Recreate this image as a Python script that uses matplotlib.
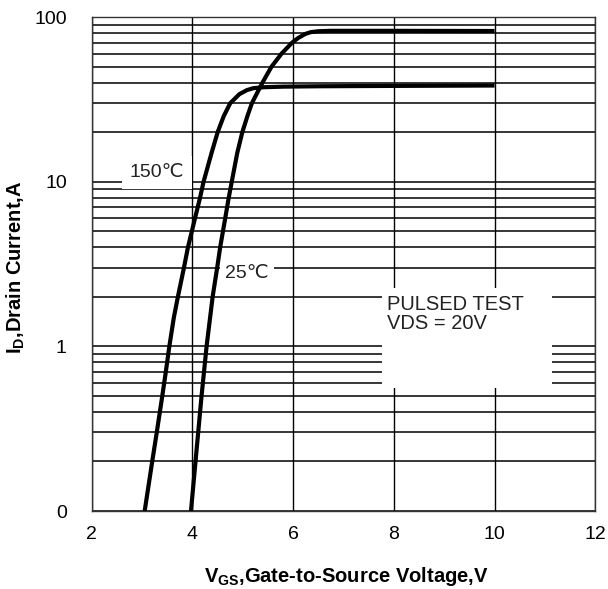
"""Transfer characteristics: drain current vs gate-to-source voltage."""

import matplotlib

matplotlib.use("Agg")
import matplotlib.pyplot as plt
from matplotlib.patches import Rectangle
from matplotlib.ticker import LogLocator, NullFormatter

plt.rcParams["font.family"] = ["Liberation Sans", "DejaVu Sans"]
plt.rcParams["mathtext.fontset"] = "custom"
plt.rcParams["mathtext.rm"] = "Liberation Sans"
plt.rcParams["mathtext.bf"] = "Liberation Sans:bold"

# values
vgs_150 = [3.05, 3.20, 3.29, 3.40, 3.47, 3.54, 3.63, 3.71, 3.83, 3.91, 4.05, 4.15,
           4.22, 4.38, 4.50, 4.62, 4.75, 4.93, 5.08, 5.21, 5.42, 5.80, 6.50, 8.0, 10.0]
id_150 = [0.1, 0.2, 0.3, 0.5, 0.7, 1.0, 1.5, 2.0, 3.0, 4.0, 6.0, 8.0,
          10.0, 15.0, 20.0, 25.0, 30.0, 34.0, 36.0, 37.0, 37.5, 37.8, 38.0, 38.2, 38.4]

vgs_25 = [3.97, 4.06, 4.18, 4.28, 4.40, 4.49, 4.55, 4.65, 4.72, 4.78, 4.89, 4.99,
          5.09, 5.18, 5.39, 5.57, 5.77, 5.98, 6.11, 6.24, 6.35, 6.49, 6.73, 8.0, 10.0]
id_25 = [0.1, 0.2, 0.5, 1.0, 2.0, 3.0, 4.0, 6.0, 8.0, 10.0, 15.0, 20.0,
         25.0, 30.0, 40.0, 50.0, 60.0, 70.0, 75.0, 79.0, 81.0, 82.0, 82.5, 82.5, 82.3]

x_ticks = [2, 4, 6, 8, 10, 12]
y_ticks = [0.1, 1, 10, 100]
y_tick_labels = ["0", "1", "10", "100"]

fig = plt.figure(figsize=(6.08, 5.89), dpi=100)
ax = fig.add_axes([0.151, 0.1324, 0.828, 0.8386])

ax.set_yscale("log")
ax.set_xlim(2, 12)
ax.set_ylim(0.1, 100)

ax.set_xticks(x_ticks)
ax.set_xticklabels([str(t) for t in x_ticks], fontsize=14)
ax.set_yticks(y_ticks)
ax.set_yticklabels(y_tick_labels, fontsize=14)
ax.yaxis.set_minor_locator(LogLocator(base=10, subs=range(2, 10)))
ax.yaxis.set_minor_formatter(NullFormatter())
ax.tick_params(axis="both", which="both", length=0)
ax.tick_params(axis="x", pad=11)
ax.tick_params(axis="y", pad=18)

ax.grid(True, which="both", axis="y", color="black", linewidth=1.1, zorder=1)
ax.grid(True, which="major", axis="x", color="black", linewidth=1.0, zorder=1)
ax.set_axisbelow(True)
for spine in ax.spines.values():
    spine.set_color("#333333")
    spine.set_linewidth(1.0)

ax.plot(vgs_150, id_150, color="black", linewidth=3.0, zorder=5,
        solid_capstyle="butt", solid_joinstyle="round")
ax.plot(vgs_25, id_25, color="black", linewidth=3.0, zorder=5,
        solid_capstyle="butt", solid_joinstyle="round")

ax.text(3.29, 11.4, "150℃", fontsize=14, ha="center", va="center", color="#222222",
        bbox=dict(boxstyle="square,pad=0.4", facecolor="white", edgecolor="none"), zorder=3)
ax.text(5.08, 2.77, "25℃", fontsize=14, ha="center", va="center", color="#222222",
        bbox=dict(boxstyle="square,pad=0.25", facecolor="white", edgecolor="none"), zorder=3)

ax.add_patch(Rectangle((0.5765, 0.249), 0.338, 0.202, transform=ax.transAxes,
                       facecolor="white", edgecolor="none", zorder=2))
ax.text(0.586, 0.437, "PULSED TEST\nVDS = 20V", transform=ax.transAxes, fontsize=14.5,
        ha="left", va="top", color="#222222", linespacing=1.0, zorder=3)

fig.text(0.569, 0.0204, r"$\mathbf{V_{GS}}$,Gate-to-Source Voltage,V", fontsize=14.5,
         fontweight="bold", ha="center", va="center")
fig.text(0.026, 0.547, r"$\mathbf{I_{D}}$,Drain Current,A", fontsize=14.5,
         fontweight="bold", ha="center", va="center", rotation=90)

fig.savefig("out.png", dpi=100)
